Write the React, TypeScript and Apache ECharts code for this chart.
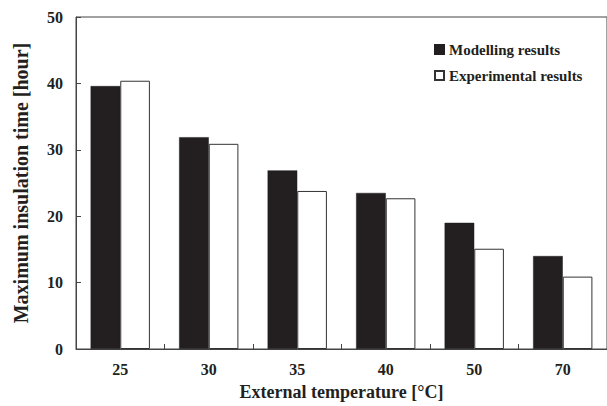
import React, { useEffect, useRef } from "react";
import * as echarts from "echarts";

const categories = ["25", "30", "35", "40", "50", "70"];
const modelling = [39.6, 31.9, 26.9, 23.5, 19.0, 14.0];
const experimental = [40.4, 30.9, 23.8, 22.7, 15.1, 10.9];
const seriesNames = ["Modelling results", "Experimental results"];

const FONT = "Liberation Serif";
const TEXT = "#231f20";
const LINE = "#444";

export default function App() {
  const ref = useRef<HTMLDivElement>(null);
  useEffect(() => {
    if (!ref.current) return;
    const chart = echarts.init(ref.current, null, { renderer: "svg" });
    chart.setOption({
      animation: false,
      backgroundColor: "#fff",
      textStyle: { fontFamily: FONT },
      grid: {
        show: true,
        left: 76,
        top: 17,
        width: 538,
        height: 336,
        borderColor: LINE,
        borderWidth: 1,
        backgroundColor: "transparent",
      },
      legend: {
        orient: "vertical",
        left: 429,
        top: 37,
        itemWidth: 9,
        itemHeight: 9,
        itemGap: 11,
        icon: "rect",
        textStyle: { fontFamily: FONT, fontWeight: "bold", fontSize: 15, color: TEXT },
        data: seriesNames,
      },
      xAxis: {
        type: "category",
        data: categories,
        name: "External temperature [°C]",
        nameLocation: "middle",
        nameGap: 34,
        nameTextStyle: { fontFamily: FONT, fontWeight: "bold", fontSize: 18, color: TEXT },
        axisLine: { show: true, lineStyle: { color: LINE, width: 1 } },
        axisTick: { show: true, inside: true, length: 5, lineStyle: { color: LINE } },
        axisLabel: { fontFamily: FONT, fontWeight: "bold", fontSize: 16, color: TEXT, margin: 12 },
      },
      yAxis: {
        type: "value",
        min: 0,
        max: 50,
        interval: 10,
        name: "Maximum insulation time [hour]",
        nameLocation: "middle",
        nameGap: 45,
        nameTextStyle: { fontFamily: FONT, fontWeight: "bold", fontSize: 20, color: TEXT },
        axisLine: { show: true, lineStyle: { color: LINE, width: 1 } },
        axisTick: { show: true, inside: true, length: 5, lineStyle: { color: LINE } },
        axisLabel: { fontFamily: FONT, fontWeight: "bold", fontSize: 16, color: TEXT, margin: 13 },
        splitLine: { show: false },
      },
      series: [
        {
          name: seriesNames[0],
          type: "bar",
          data: modelling,
          barGap: "0%",
          barCategoryGap: "33%",
          itemStyle: { color: "#231f20", borderColor: "#231f20", borderWidth: 0.5 },
        },
        {
          name: seriesNames[1],
          type: "bar",
          data: experimental,
          barGap: "0%",
          barCategoryGap: "33%",
          itemStyle: { color: "#ffffff", borderColor: "#333", borderWidth: 1 },
        },
      ],
    });
    return () => chart.dispose();
  }, []);
  return (
    <div style={{ position: "fixed", left: 0, top: 0, width: 607, height: 406, overflow: "hidden", background: "#fff" }}>
      <div ref={ref} style={{ width: 607, height: 406 }} />
    </div>
  );
}
